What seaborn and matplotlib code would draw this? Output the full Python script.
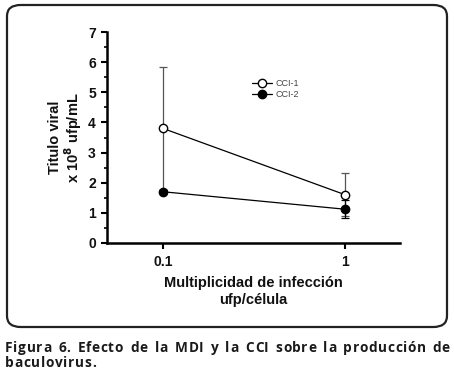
import numpy as np
import pandas as pd
import matplotlib
matplotlib.use("Agg")
import matplotlib.pyplot as plt
import seaborn as sns
from matplotlib.patches import FancyBboxPatch
from matplotlib.ticker import MultipleLocator, FixedLocator, NullLocator

# Datos
moi = [0.1, 1]
cci1_titulo = [3.8, 1.6]
cci1_de = [2.05, 0.72]
cci2_titulo = [1.7, 1.12]
cci2_de = [0.05, 0.30]
series = ["CCI-1", "CCI-2"]
y_ticks = [0, 1, 2, 3, 4, 5, 6, 7]
x_ticks = [0.1, 1]
x_labels = ["0.1", "1"]
caption_l1 = "Figura 6. Efecto de la MDI y la CCI sobre la producción de"
caption_l2 = "baculovirus."

df = pd.DataFrame({
    "moi": moi * 2,
    "titulo": cci1_titulo + cci2_titulo,
    "de": cci1_de + cci2_de,
    "cci": [series[0]] * 2 + [series[1]] * 2,
})

sns.set_theme(style="white")
plt.rcParams["font.family"] = ["Liberation Sans", "DejaVu Sans"]

W, H = 454, 371
fig = plt.figure(figsize=(W / 100, H / 100), dpi=100)
fig.patch.set_facecolor("white")

# marco redondeado
box = FancyBboxPatch((7 / W, 1 - 327 / H), 440 / W, 322 / H,
                     boxstyle="round,pad=0,rounding_size=0.03",
                     transform=fig.transFigure, fill=False,
                     edgecolor="#222222", linewidth=1.6)
fig.patches.append(box)

ax = fig.add_axes([107 / W, 1 - 243 / H, 293 / W, 211 / H])

caras = {"CCI-1": "white", "CCI-2": "black"}
ecol = {"CCI-1": "#555555", "CCI-2": "black"}
for s in series:
    d = df[df["cci"] == s]
    ax.errorbar(d["moi"], d["titulo"], yerr=d["de"], fmt="none",
                ecolor=ecol[s], elinewidth=0.9, capsize=3, capthick=0.9, zorder=2)
for s in series:
    d = df[df["cci"] == s]
    sns.lineplot(data=d, x="moi", y="titulo", ax=ax, color="black",
                 linewidth=0.9, marker="o", markersize=6,
                 markerfacecolor=caras[s], markeredgecolor="black",
                 markeredgewidth=1.0, label=s, zorder=3)

ax.set_xscale("log")
ax.set_xlim(0.0492, 2.0)
ax.set_ylim(0, 7)
ax.xaxis.set_major_locator(FixedLocator(x_ticks))
ax.xaxis.set_minor_locator(NullLocator())
ax.set_xticklabels(x_labels)
ax.set_yticks(y_ticks)
ax.yaxis.set_minor_locator(MultipleLocator(0.5))

for sp in ["top", "right"]:
    ax.spines[sp].set_visible(False)
for sp in ["left", "bottom"]:
    ax.spines[sp].set_linewidth(1.8)
    ax.spines[sp].set_color("black")

ax.tick_params(axis="both", which="major", direction="out", length=4, width=1.5,
               color="black", labelsize=10, pad=4, left=True, bottom=True)
ax.tick_params(axis="y", which="minor", direction="out", length=2.5, width=1.2,
               color="black", left=True)
for lb in ax.get_xticklabels() + ax.get_yticklabels():
    lb.set_fontweight("bold")
    lb.set_color("#111111")
ax.tick_params(axis="x", pad=5)

ax.set_xlabel("Multiplicidad de infección\nufp/célula", fontsize=10.5,
              fontweight="bold", color="#111111", labelpad=5, linespacing=1.25)
ax.set_ylabel("Titulo viral\nx 10$^{\\mathbf{8}}$ ufp/mL", fontsize=10.5,
              fontweight="bold", color="#111111", labelpad=3, linespacing=1.0)

leg = ax.legend(loc="upper left", bbox_to_anchor=(0.48, 0.80), frameon=False,
                fontsize=6.5, handlelength=2.2, handletextpad=0.4,
                labelspacing=0.3, borderpad=0)
for t in leg.get_texts():
    t.set_color("#444444")

# pie de figura con espaciado de letras
fig.canvas.draw()
r = fig.canvas.get_renderer()
kw = dict(fontsize=9.8, fontweight="bold", color="#1a1a1a",
          family=["Open Sans", "DejaVu Sans"], va="baseline", ha="left")
medidor = fig.text(0, 0, "", **kw)


def ancho_txt(txt):
    if not txt:
        return 0.0
    medidor.set_text(txt)
    return medidor.get_window_extent(r).width


words = caption_l1.split(" ")
x0, x1 = 5.0, 450.0
gap = 7.0
natural = sum(ancho_txt(w) for w in words)
huecos = sum(len(w) - 1 for w in words)
track = max(0.0, (x1 - x0 - gap * (len(words) - 1) - natural) / huecos)
track = min(track, 2.5)


def ancho(txt):
    return ancho_txt(txt) + track * (len(txt) - 1)


def palabra(txt, x, yb):
    # coloca la palabra letra a letra con espaciado extra
    for k, ch in enumerate(txt):
        xk = x + ancho_txt(txt[:k]) + track * k
        fig.text(xk / W, 1 - yb / H, ch, **kw)


widths = [ancho(w) for w in words]
gap = (x1 - x0 - sum(widths)) / (len(words) - 1)
xc = x0
for w, wd in zip(words, widths):
    palabra(w, xc, 352)
    xc += wd + gap
palabra(caption_l2, x0, 367)
medidor.remove()

fig.savefig("out.png", dpi=100)
